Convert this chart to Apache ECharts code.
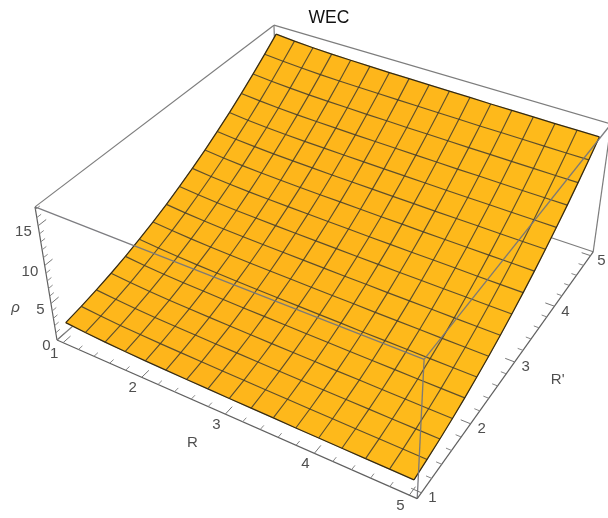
<!DOCTYPE html>
<html>
<head>
<meta charset="utf-8">
<style>html,body{margin:0;padding:0;background:#fff}#c{width:608px;height:518px}</style>
<script src="https://cdn.jsdelivr.net/npm/echarts@6/dist/echarts.min.js"></script>
</head>
<body>
<div id="c"></div>
<script>
// ---- data ----
var titleText = 'WEC';
var rValues = [1,1.25,1.5,1.75,2,2.25,2.5,2.75,3,3.25,3.5,3.75,4,4.25,4.5,4.75,5];
var rPrimeValues = [1,1.25,1.5,1.75,2,2.25,2.5,2.75,3,3.25,3.5,3.75,4,4.25,4.5,4.75,5];
// rho at each R (columns), one list per R'
var rho00 = [2.15,1.94,1.79,1.68,1.61,1.56,1.51,1.48,1.44,1.41,1.39,1.35,1.34,1.32,1.30,1.29,1.28];
var rho01 = [2.49,2.28,2.13,2.02,1.95,1.90,1.85,1.82,1.78,1.75,1.73,1.69,1.68,1.66,1.64,1.63,1.62];
var rho02 = [2.91,2.70,2.55,2.44,2.37,2.32,2.27,2.24,2.20,2.17,2.15,2.11,2.10,2.08,2.06,2.05,2.04];
var rho03 = [3.39,3.18,3.03,2.92,2.85,2.80,2.75,2.72,2.68,2.65,2.63,2.59,2.58,2.56,2.54,2.53,2.52];
var rho04 = [3.96,3.75,3.60,3.49,3.42,3.37,3.32,3.29,3.25,3.22,3.20,3.16,3.15,3.13,3.11,3.10,3.09];
var rho05 = [4.62,4.41,4.26,4.15,4.08,4.03,3.98,3.95,3.91,3.88,3.86,3.82,3.81,3.79,3.77,3.76,3.75];
var rho06 = [5.33,5.12,4.97,4.86,4.79,4.74,4.69,4.66,4.62,4.59,4.57,4.53,4.52,4.50,4.48,4.47,4.46];
var rho07 = [6.12,5.91,5.76,5.65,5.58,5.53,5.48,5.45,5.41,5.38,5.36,5.32,5.31,5.29,5.27,5.26,5.25];
var rho08 = [7.01,6.80,6.65,6.54,6.47,6.42,6.37,6.34,6.30,6.27,6.25,6.21,6.20,6.18,6.16,6.15,6.14];
var rho09 = [7.96,7.75,7.60,7.49,7.42,7.37,7.32,7.29,7.25,7.22,7.20,7.16,7.15,7.13,7.11,7.10,7.09];
var rho10 = [8.98,8.77,8.62,8.51,8.44,8.39,8.34,8.31,8.27,8.24,8.22,8.18,8.17,8.15,8.13,8.12,8.11];
var rho11 = [10.09,9.88,9.73,9.62,9.55,9.50,9.45,9.42,9.38,9.35,9.33,9.29,9.28,9.26,9.24,9.23,9.22];
var rho12 = [11.26,11.05,10.90,10.79,10.72,10.67,10.62,10.59,10.55,10.52,10.50,10.46,10.45,10.43,10.41,10.40,10.39];
var rho13 = [12.51,12.30,12.15,12.04,11.97,11.92,11.87,11.84,11.80,11.77,11.75,11.71,11.70,11.68,11.66,11.65,11.64];
var rho14 = [13.84,13.63,13.48,13.37,13.30,13.25,13.20,13.17,13.13,13.10,13.08,13.04,13.03,13.01,12.99,12.98,12.97];
var rho15 = [15.24,15.03,14.88,14.77,14.70,14.65,14.60,14.57,14.53,14.50,14.48,14.44,14.43,14.41,14.39,14.38,14.37];
var rho16 = [16.71,16.50,16.35,16.24,16.17,16.12,16.07,16.04,16.00,15.97,15.95,15.91,15.90,15.88,15.86,15.85,15.84];
var rhoRows = [rho00,rho01,rho02,rho03,rho04,rho05,rho06,rho07,rho08,rho09,rho10,rho11,rho12,rho13,rho14,rho15,rho16];
var rMajorTicks = [1,2,3,4,5];
var rPrimeMajorTicks = [1,2,3,4,5];
var rhoMajorTicks = [0,5,10,15];
var rMinorTicks = [1.2,1.4,1.6,1.8,2.2,2.4,2.6,2.8,3.2,3.4,3.6,3.8,4.2,4.4,4.6,4.8];
var rhoMinorTicks = [1,2,3,4,6,7,8,9,11,12,13,14,16,17];

// ---- camera: a perspective projection of the plot box onto the page ----
var R0 = 0.92, R1 = 5.08, Z0 = 0, Z1 = 17.3;
function toBox(R, Rp, z){ return [(R-R0)/(R1-R0), (Rp-R0)/(R1-R0), (z-Z0)/(Z1-Z0)]; }
function boxToPage(u, v, w){
  var d = 1 - 0.123*u + 0.2112*v - 0.072*w;
  return [(57 + 308.9*u + 279.6*v - 24.5*w)/d, (340 + 97.3*u - 163.3*v - 148*w)/d];
}
function project(R, Rp, z){ var b = toBox(R, Rp, z); return boxToPage(b[0], b[1], b[2]); }
function boxEdge(a, b){ return a.concat(b); }

var backEdges = [
  boxEdge([0,0,1],[0,1,1]), boxEdge([0,1,1],[1,1,1]), boxEdge([0,1,0],[0,1,1]),
  boxEdge([1,1,0],[1,1,1]), boxEdge([0,1,0],[1,1,0]), boxEdge([0,0,0],[0,1,0])
];
var frontEdges = [
  boxEdge([0,0,1],[1,0,1]), boxEdge([1,0,1],[1,1,1]), boxEdge([1,0,0],[1,0,1])
];
var axisEdges = [
  boxEdge([0,0,0],[1,0,0]), boxEdge([1,0,0],[1,1,0]), boxEdge([0,0,0],[0,0,1])
];

var cellData = [];
for (var jj = 0; jj < rPrimeValues.length-1; jj++)
  for (var ii = 0; ii < rValues.length-1; ii++) cellData.push([ii, jj]);
var meshData = [];
for (var k = 0; k < rValues.length; k++) { meshData.push([0, k]); meshData.push([1, k]); }

function cellColor(u, v){
  // soft lighting across the sheet
  var g = 181.5 + 6*Math.abs(u-0.38)/0.62 - 1.5*(1-v)*(u<0.6?1:0.2);
  return 'rgb(254,' + g.toFixed(1) + ',27)';
}

function edgeSeries(list, color, width, z){
  return {
    type:'custom', coordinateSystem:'cartesian2d', silent:true, z:z, clip:false, data:list,
    renderItem:function(p, api){
      var a = api.coord(boxToPage(api.value(0),api.value(1),api.value(2)));
      var b = api.coord(boxToPage(api.value(3),api.value(4),api.value(5)));
      return {type:'line', shape:{x1:a[0],y1:a[1],x2:b[0],y2:b[1]}, style:{stroke:color, lineWidth:width, fill:null}};
    }
  };
}
function tickLine(api, s, e, color){
  var a = api.coord(boxToPage(s[0],s[1],s[2])), b = api.coord(boxToPage(e[0],e[1],e[2]));
  return {type:'line', shape:{x1:a[0],y1:a[1],x2:b[0],y2:b[1]}, style:{stroke:color, lineWidth:1, fill:null}};
}
function tickSeries(values, kind, len, color){
  return {
    type:'custom', coordinateSystem:'cartesian2d', silent:true, z:6, clip:false,
    data:values.map(function(t){return [t];}),
    renderItem:function(p, api){
      var t = api.value(0), s, e;
      if (kind === 'R')  { s = toBox(t, R0, 0); e = [s[0], s[1]+len, s[2]]; }
      if (kind === 'Rp') { s = toBox(R1, t, 0); e = [s[0]-len, s[1], s[2]]; }
      if (kind === 'z')  { s = toBox(R0, R0, t); e = [s[0], s[1]+len, s[2]]; }
      return tickLine(api, s, e, color);
    }
  };
}
function textEl(api, page, dx, dy, txt, align, font){
  var c = api.coord(page);
  return {type:'text', style:{text:txt, x:c[0]+dx, y:c[1]+dy, fill:'#4f4f4f', font:font,
    textAlign:align, textVerticalAlign:'middle', align:align, verticalAlign:'middle'}};
}
function labelSeries(values, kind){
  return {
    type:'custom', coordinateSystem:'cartesian2d', silent:true, z:7, clip:false,
    data:values.map(function(t){return [t];}),
    renderItem:function(p, api){
      var t = api.value(0), f = '15px "Liberation Sans", Arial, sans-serif';
      if (kind === 'R')  return textEl(api, project(t, R0, 0), -9, 10.7, String(t), 'center', f);
      if (kind === 'Rp') return textEl(api, project(R1, t, 0), 11, 5.2, String(t), 'center', f);
      return textEl(api, project(R0, R0, t), -6.4, 6, String(t), 'right', f);
    }
  };
}
var axisNames = [['R',0],["R'",1],['\u03C1',2]];
var chart = echarts.init(document.getElementById('c'), null, {renderer:'canvas'});
chart.setOption({
  animation:false,
  backgroundColor:'#ffffff',
  title:{text:titleText, left:324, top:4, textAlign:'center',
    textStyle:{fontFamily:'"Liberation Sans", Arial, sans-serif', fontSize:17.5, fontWeight:'normal', color:'#111'}},
  grid:{left:0,right:0,top:0,bottom:0,containLabel:false},
  xAxis:{type:'value',min:0,max:608,show:false},
  yAxis:{type:'value',min:0,max:518,inverse:true,show:false},
  series:[
    edgeSeries(backEdges,'#7d7d7d',1.2,1),
    {
      type:'custom', coordinateSystem:'cartesian2d', silent:true, z:2, clip:false, data:cellData,
      renderItem:function(p, api){
        var i = api.value(0), j = api.value(1);
        var pts = [[i,j],[i+1,j],[i+1,j+1],[i,j+1]].map(function(q){
          return api.coord(project(rValues[q[0]], rPrimeValues[q[1]], rhoRows[q[1]][q[0]]));
        });
        var col = cellColor((i+0.5)/16, (j+0.5)/16);
        return {type:'polygon', shape:{points:pts}, style:{fill:col, stroke:col, lineWidth:0.8}};
      }
    },
    {
      type:'custom', coordinateSystem:'cartesian2d', silent:true, z:3, clip:false, data:meshData,
      renderItem:function(p, api){
        var dir = api.value(0), k = api.value(1), pts = [], n;
        for (n = 0; n < 17; n++) {
          pts.push(api.coord(dir === 0
            ? project(rValues[n], rPrimeValues[k], rhoRows[k][n])
            : project(rValues[k], rPrimeValues[n], rhoRows[n][k])));
        }
        var edge = (k === 0 || k === 16);
        return {type:'polyline', shape:{points:pts},
          style:{stroke: edge ? 'rgba(40,34,20,0.95)' : 'rgba(66,60,46,0.85)', lineWidth: edge ? 1.25 : 1.15, fill:null}};
      }
    },
    edgeSeries(frontEdges,'rgba(118,118,122,0.95)',1.3,4),
    edgeSeries(axisEdges,'#606060',1.2,5),
    tickSeries(rMajorTicks,'R',0.028,'#777777'),
    tickSeries(rMinorTicks,'R',0.015,'#888888'),
    tickSeries(rPrimeMajorTicks,'Rp',0.025,'#777777'),
    tickSeries(rMinorTicks,'Rp',0.014,'#888888'),
    tickSeries(rhoMajorTicks,'z',0.028,'#777777'),
    tickSeries(rhoMinorTicks,'z',0.015,'#888888'),
    labelSeries(rMajorTicks,'R'),
    labelSeries(rPrimeMajorTicks,'Rp'),
    labelSeries(rhoMajorTicks,'z'),
    {
      type:'custom', coordinateSystem:'cartesian2d', silent:true, z:7, clip:false, data:axisNames.map(function(a,i){return [i];}),
      renderItem:function(p, api){
        var idx = api.value(0), f = '15px "Liberation Sans", Arial, sans-serif';
        if (idx === 0) return textEl(api, project(3, R0, 0), -33, 29, axisNames[0][0], 'center', f);
        if (idx === 1) return textEl(api, project(R1, 3, 0), 43, 18, axisNames[1][0], 'center', f);
        return textEl(api, project(R0, R0, 8.65), -31, 32, axisNames[2][0], 'center', 'italic 15px "Liberation Sans", Arial, sans-serif');
      }
    }
  ]
});
</script>
</body>
</html>
